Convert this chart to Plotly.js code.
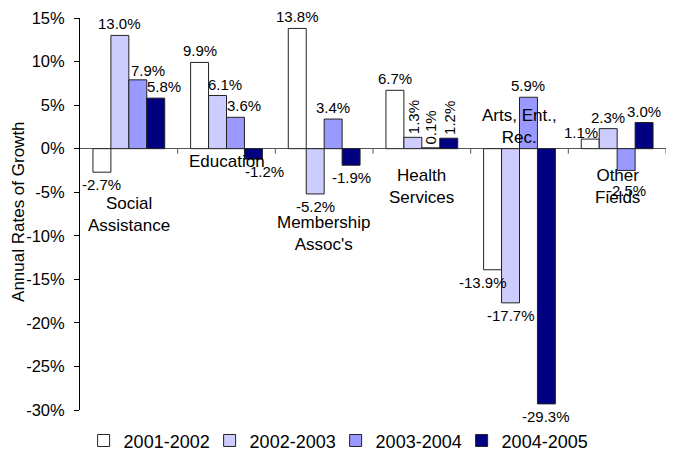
<!DOCTYPE html>
<html><head><meta charset="utf-8">
<script src="https://cdn.plot.ly/plotly-3.0.1.min.js"></script>
<style>html,body{margin:0;padding:0;background:#fff}#chart{width:678px;height:453px}</style>
</head><body><div id="chart"></div>
<script>
// ---- data ----
const categories = ["Social Assistance", "Education", "Membership Assoc's", "Health Services", "Arts, Ent., Rec.", "Other Fields"];
const categoryLabels = ["Social<br>Assistance", "Education", "Membership<br>Assoc's", "Health<br>Services", "Arts, Ent.,<br>Rec.", "Other<br>Fields"];
const seriesNames = ["2001-2002", "2002-2003", "2003-2004", "2004-2005"];
const growth2001_2002 = [-2.7, 9.9, 13.8, 6.7, -13.9, 1.1];
const growth2002_2003 = [13.0, 6.1, -5.2, 1.3, -17.7, 2.3];
const growth2003_2004 = [7.9, 3.6, 3.4, 0.1, 5.9, -2.5];
const growth2004_2005 = [5.8, -1.2, -1.9, 1.2, -29.3, 3.0];
const yTickVals = [-30, -25, -20, -15, -10, -5, 0, 5, 10, 15];
const yTickText = ["-30%", "-25%", "-20%", "-15%", "-10%", "-5%", "0%", "5%", "10%", "15%"];

// ---- styling ----
const FONT = "Liberation Sans, Arial, sans-serif";
const seriesValues = [growth2001_2002, growth2002_2003, growth2003_2004, growth2004_2005];
const seriesColors = ["#FFFFFF", "#CCCCFF", "#9999FF", "#000080"];
const BARGAP = 0.265;
const barW = (1 - BARGAP) / seriesNames.length;

const traces = seriesValues.map((vals, i) => ({
  type: "bar",
  name: seriesNames[i],
  x: categories,
  y: vals,
  marker: {color: seriesColors[i], line: {color: "#222222", width: 1}},
  hoverinfo: "skip"
}));

// label placement tweaks (pixels), keyed "category index-series index"
const nudges = {"0-2": [10, -2], "0-3": [8, 0], "1-1": [7, 0], "1-2": [9, 0], "1-3": [11, 0],
                "4-0": [-10, 0], "5-0": [-9, -5], "5-2": [0, -8]};
const rotated = new Set(["3-1", "3-2", "3-3"]);

const annotations = [];
seriesValues.forEach((vals, i) => {
  vals.forEach((v, j) => {
    const key = j + "-" + i;
    const nd = nudges[key] || [0, 0];
    const pos = v >= 0;
    const rot = rotated.has(key);
    annotations.push({
      x: j + (i - (seriesNames.length - 1) / 2) * barW,
      y: v, xref: "x", yref: "y",
      text: v.toFixed(1) + "%",
      showarrow: false,
      textangle: rot ? -90 : 0,
      xanchor: "center",
      yanchor: pos ? "bottom" : "top",
      xshift: nd[0],
      yshift: (pos ? 1 : -2) + nd[1],
      font: {family: FONT, size: 15, color: "#000"}
    });
  });
});

// category names placed near the zero line
const catLabelY = [-7.6, -1.5, -9.7, -4.3, 2.5, -4.3];
categoryLabels.forEach((lab, j) => {
  annotations.push({
    x: j, y: catLabelY[j], xref: "x", yref: "y",
    text: lab, showarrow: false, xanchor: "center", yanchor: "middle",
    font: {family: FONT, size: 17, color: "#000"}
  });
});

// y-axis title
annotations.push({
  xref: "paper", yref: "paper", x: -0.106, y: 0.505,
  text: "Annual Rates of Growth", textangle: -90, showarrow: false,
  xanchor: "center", yanchor: "middle",
  font: {family: FONT, size: 17, color: "#000"}
});

// category boundary tick marks on the zero line
const shapes = [];
for (let j = 0; j < categories.length; j++) {
  shapes.push({
    type: "line", xref: "x", yref: "y", x0: j + 0.5, x1: j + 0.5,
    ysizemode: "pixel", yanchor: 0, y0: 0, y1: -5,
    line: {color: "#555555", width: 1}
  });
}

const layout = {
  width: 678, height: 453,
  margin: {l: 80, r: 12, t: 18, b: 43},
  paper_bgcolor: "#fff", plot_bgcolor: "#fff",
  barmode: "group", bargap: BARGAP, bargroupgap: 0,
  font: {family: FONT, size: 16, color: "#000"},
  showlegend: true,
  legend: {orientation: "h", xref: "container", yref: "container",
           x: 0.495, xanchor: "center", y: 0.027, yanchor: "middle",
           entrywidth: 81, entrywidthmode: "pixels",
           font: {family: FONT, size: 18, color: "#000"}, itemclick: false, traceorder: "normal"},
  xaxis: {type: "category", range: [-0.5, 5.5], showticklabels: false, ticks: "", showline: false,
          showgrid: false, zeroline: false, fixedrange: true, automargin: false},
  yaxis: {range: [-30, 15], tickvals: yTickVals, ticktext: yTickText, ticks: "outside", ticklen: 5,
          tickcolor: "#000", showline: true, linecolor: "#000", linewidth: 1, showgrid: false,
          zeroline: true, zerolinecolor: "#555555", zerolinewidth: 1, automargin: false,
          tickfont: {family: FONT, size: 16.5, color: "#000"}, ticklabelstandoff: 6, fixedrange: true},
  annotations: annotations,
  shapes: shapes
};

Plotly.newPlot("chart", traces, layout, {displayModeBar: false, staticPlot: true});
</script>
</body></html>
